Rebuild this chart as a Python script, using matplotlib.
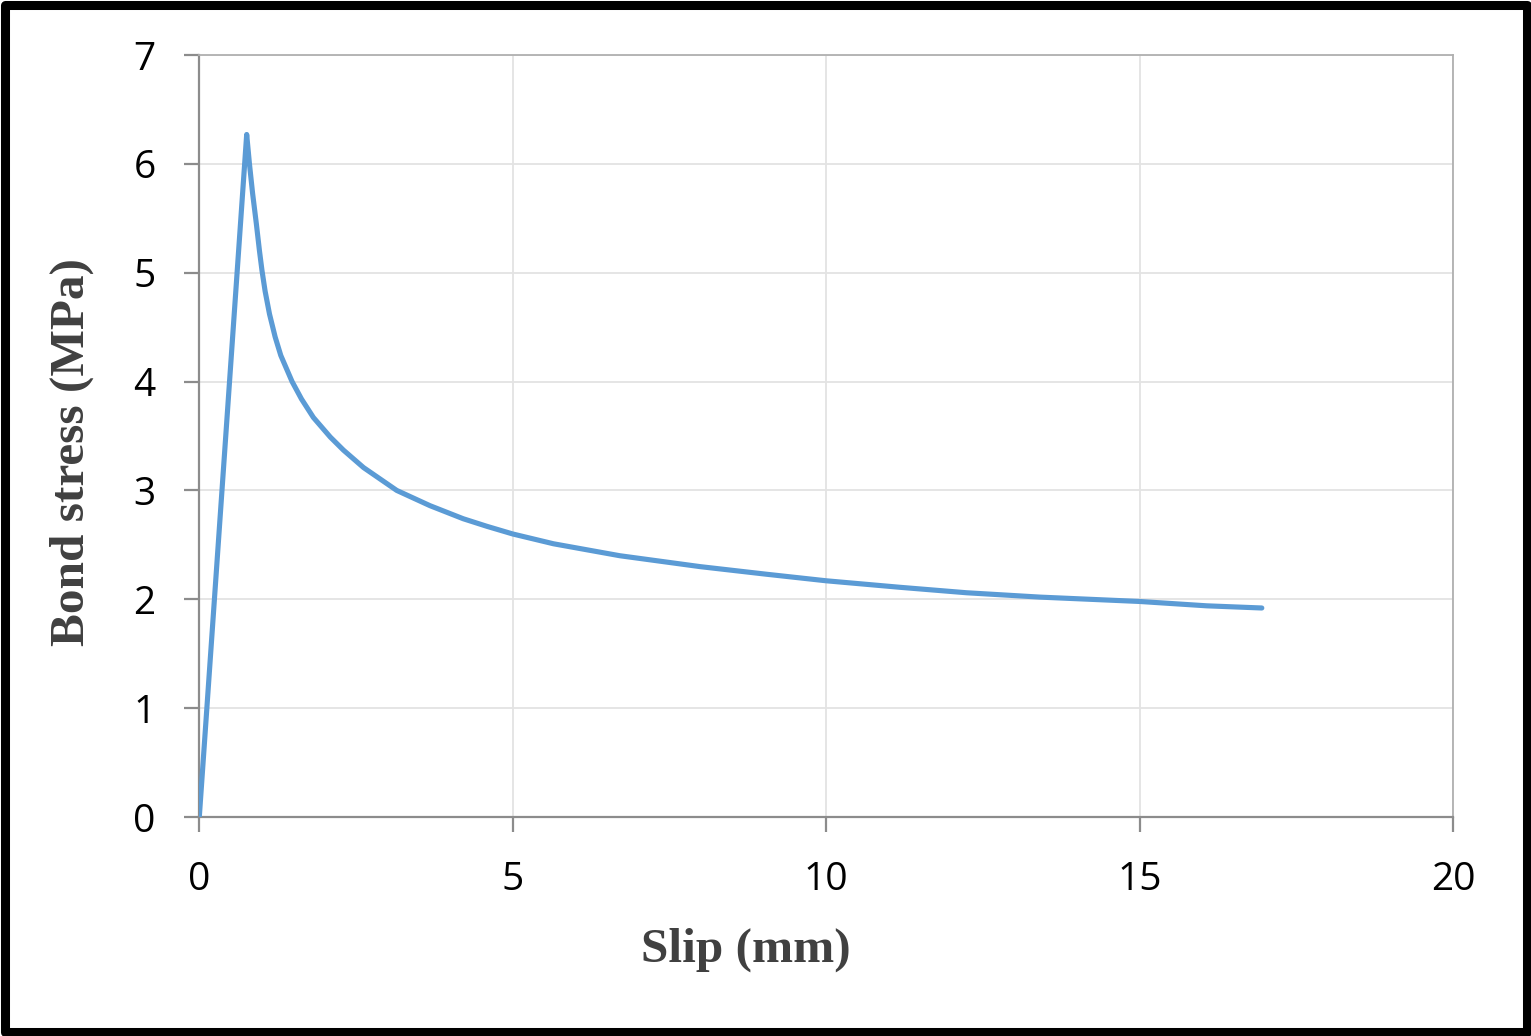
import matplotlib
matplotlib.use("Agg")
import matplotlib.pyplot as plt
from matplotlib.patches import Rectangle

# Data
slip = [0.0, 0.756, 0.80, 0.85, 0.91, 0.96, 1.00, 1.05, 1.12, 1.21, 1.30, 1.48, 1.63,
        1.82, 2.09, 2.30, 2.62, 3.15, 3.68, 4.21, 4.59, 5.00, 5.65, 6.71, 7.99, 9.05,
        10.0, 11.18, 12.24, 13.41, 15.0, 16.07, 16.95]
stress = [0.0, 6.27, 6.00, 5.73, 5.45, 5.20, 5.02, 4.83, 4.62, 4.41, 4.24, 4.00, 3.84,
          3.67, 3.49, 3.37, 3.21, 3.00, 2.86, 2.74, 2.67, 2.60, 2.51, 2.40, 2.30, 2.23,
          2.17, 2.11, 2.06, 2.02, 1.98, 1.94, 1.92]
xticks = [0, 5, 10, 15, 20]
yticks = [0, 1, 2, 3, 4, 5, 6, 7]
xlabel = "Slip (mm)"
ylabel = "Bond stress (MPa)"

W, H = 1531, 1036
fig = plt.figure(figsize=(W / 100, H / 100), dpi=100)
ax = fig.add_axes([199.3 / W, 1 - 817 / H, (1453 - 199.3) / W, (817 - 55) / H])

ax.plot(slip, stress, color="#5b9bd5", lw=3.7, solid_capstyle="round",
        solid_joinstyle="round", zorder=3)

ax.set_xlim(0, 20)
ax.set_ylim(0, 7)
ax.set_xticks(xticks)
ax.set_yticks(yticks)
ax.grid(True, color="#e3e3e3", lw=1.3, zorder=0)
ax.set_axisbelow(True)

for s in ["left", "bottom"]:
    ax.spines[s].set_color("#8c8c8c")
    ax.spines[s].set_linewidth(1.6)
for s in ["top", "right"]:
    ax.spines[s].set_color("#b0b0b0")
    ax.spines[s].set_linewidth(1.3)

ax.tick_params(axis="both", direction="out", length=10.5, width=1.6, color="#8c8c8c",
               labelsize=28, pad=21, labelcolor="black")
for lab in ax.get_xticklabels() + ax.get_yticklabels():
    lab.set_fontfamily("Open Sans")

fig.text(746 / W, 1 - 950 / H, xlabel, ha="center", va="center",
         family="Liberation Serif", weight="bold", fontsize=35.5, color="#404040")
fig.text(72 / W, 1 - 452 / H, ylabel, ha="center", va="center", rotation=90,
         family="Liberation Serif", weight="bold", fontsize=35.5, color="#404040")

# Black frame around the figure
fig.patches.append(Rectangle((4.5 / W, 4.5 / H), 1 - 9 / W, 1 - 9 / H,
                             transform=fig.transFigure, fill=False,
                             edgecolor="black", lw=6.5, joinstyle="round"))

fig.savefig("out.png", dpi=100)
